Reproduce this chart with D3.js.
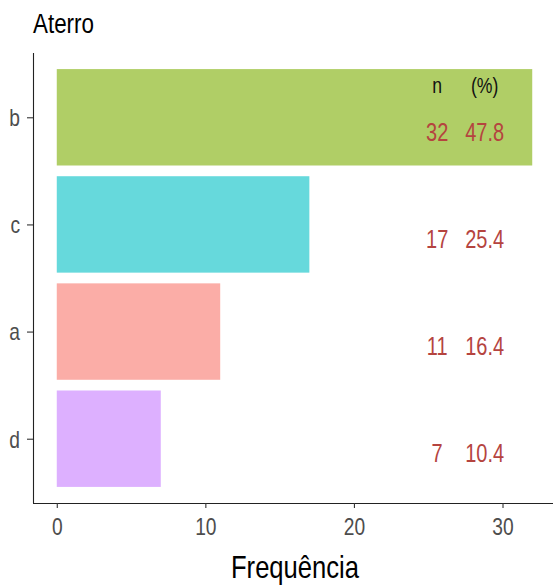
<!DOCTYPE html>
<html><head><meta charset="utf-8">
<script src="https://cdn.jsdelivr.net/npm/d3@7"></script>
<style>body{margin:0;background:#fff}</style>
</head><body>
<script>
const categories = ["b", "c", "a", "d"];
const counts = [32, 17, 11, 7];
const percents = ["47.8", "25.4", "16.4", "10.4"];
const hueKeys = ["a", "b", "c", "d"];
const hueColors = ["#F8766D", "#7CAE00", "#00BFC4", "#C77CFF"];
const xTicks = [0, 10, 20, 30];
const title = "Aterro";
const xLabel = "Frequência";

(function(){
const W = 553, H = 586;
const pL = 33, pR = 556, pT = 53, pB = 503;
const SX = 0.8;
const font = "'Liberation Sans',Arial,sans-serif";

const svg = d3.select("body").append("svg").attr("width", W).attr("height", H);
const x = d3.scaleLinear().domain([-1.6, 33.6]).range([pL, pR]);
const y = d3.scaleLinear().domain([0.4, 4.6]).range([pT, pB]);
const pos = c => categories.indexOf(c) + 1;
const color = d3.scaleOrdinal(hueKeys, hueColors);

function txt(px, py, str, size, anchor, fill, dy) {
  return svg.append("text")
    .attr("transform", `translate(${px},${py}) scale(${SX},1)`)
    .attr("text-anchor", anchor).attr("dy", dy || "0")
    .style("font-family", font).style("font-size", size + "px")
    .attr("fill", fill).text(str);
}

svg.selectAll("rect.bar").data(categories).join("rect")
  .attr("x", x(0))
  .attr("y", c => y(pos(c) - 0.45))
  .attr("width", (c, i) => x(counts[i]) - x(0))
  .attr("height", c => y(pos(c) + 0.45) - y(pos(c) - 0.45))
  .attr("fill", c => color(c)).attr("fill-opacity", 0.6);

const gx = svg.append("g").attr("transform", `translate(0,${pB})`)
  .call(d3.axisBottom(x).tickValues(xTicks).tickSize(5).tickPadding(10));
gx.select(".domain").attr("d", `M${pL},0.5H${W}`).attr("stroke", "#222").attr("stroke-width", 1.1);
gx.selectAll(".tick line").attr("stroke", "#333").attr("stroke-width", 1.1);
gx.selectAll(".tick text").attr("fill", "#4D4D4D").attr("transform", `scale(${SX},1)`)
  .style("font-family", font).style("font-size", "24px");

const gy = svg.append("g").attr("transform", `translate(${pL},0)`)
  .call(d3.axisLeft(d3.scalePoint().domain(categories).range([y(1), y(4)])).tickSize(6).tickPadding(7));
gy.select(".domain").attr("d", `M0.5,${pT}V${pB}`).attr("stroke", "#222").attr("stroke-width", 1.1);
gy.selectAll(".tick line").attr("stroke", "#333").attr("stroke-width", 1.1);
gy.selectAll(".tick text").attr("fill", "#4D4D4D").attr("transform", `scale(${SX},1)`)
  .attr("x", -13 / SX).attr("dy", "0.35em")
  .style("font-family", font).style("font-size", "24px");

const nX = 25.6, pX = 28.8;
txt(x(nX), y(1 - 0.3), "n", 22, "middle", "#111", "0.35em");
txt(x(pX), y(1 - 0.3), "(%)", 22, "middle", "#111", "0.35em");

categories.forEach((c, i) => {
  txt(x(nX), y(pos(c) + 0.14), counts[i], 25, "middle", "#B5443F", "0.35em");
  txt(x(pX), y(pos(c) + 0.14), percents[i], 25, "middle", "#B5443F", "0.35em");
});

txt(pL, 33, title, 28, "start", "#000");
txt(295, 578, xLabel, 32, "middle", "#000");
})();
</script>
</body></html>
